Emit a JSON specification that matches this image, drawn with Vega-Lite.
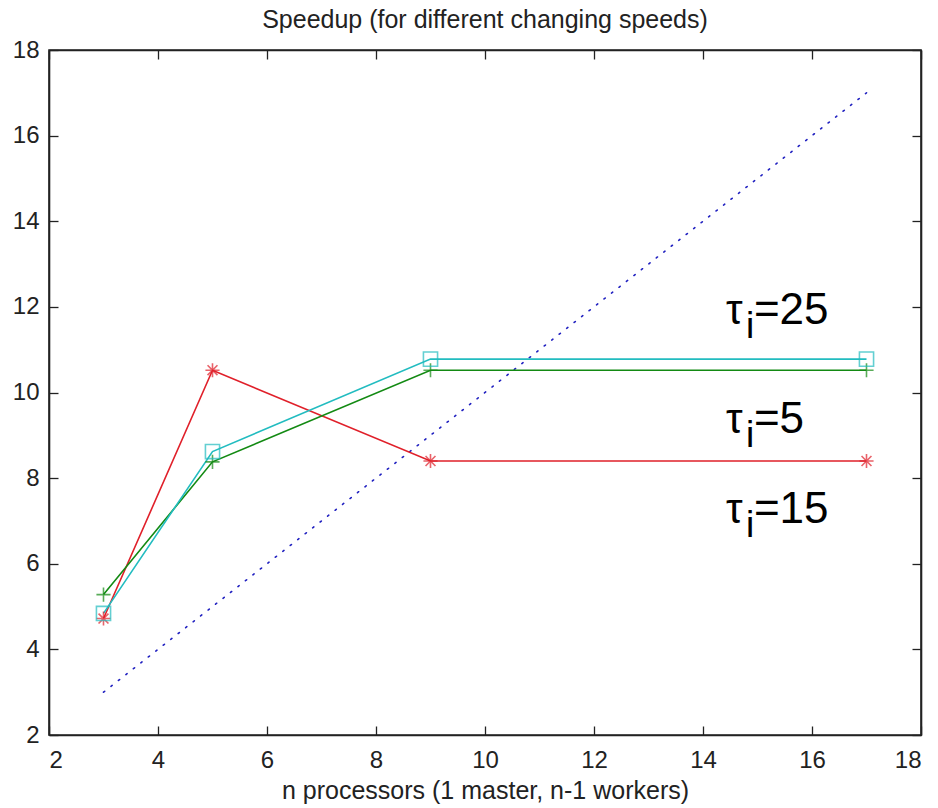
{
  "$schema": "https://vega.github.io/schema/vega-lite/v6.json",
  "autosize": {"type": "none"},
  "width": 872,
  "height": 685,
  "padding": {"left": 49, "top": 50, "right": 17, "bottom": 73},
  "background": "white",
  "title": {"text": "Speedup (for different changing speeds)", "fontSize": 25, "fontWeight": "normal", "font": "Liberation Sans", "color": "#222", "offset": 5},
  "config": {
    "view": {"stroke": "#222", "strokeWidth": 1.6},
    "axis": {"grid": false, "domainColor": "#222", "domainWidth": 1.6, "tickColor": "#222", "tickSize": -9, "tickWidth": 1.3, "labelFontSize": 24, "labelFont": "Liberation Sans", "labelColor": "#222", "titleFont": "Liberation Sans", "titleFontSize": 25, "titleFontWeight": "normal", "titleColor": "#222"}
  },
  "datasets": {
    "series": [
      {"n": 3, "speedup": 4.72, "series": "tau15"},
      {"n": 5, "speedup": 10.52, "series": "tau15"},
      {"n": 9, "speedup": 8.4, "series": "tau15"},
      {"n": 17, "speedup": 8.4, "series": "tau15"},
      {"n": 3, "speedup": 5.28, "series": "tau5"},
      {"n": 5, "speedup": 8.38, "series": "tau5"},
      {"n": 9, "speedup": 10.52, "series": "tau5"},
      {"n": 17, "speedup": 10.52, "series": "tau5"},
      {"n": 3, "speedup": 4.84, "series": "tau25"},
      {"n": 5, "speedup": 8.62, "series": "tau25"},
      {"n": 9, "speedup": 10.78, "series": "tau25"},
      {"n": 17, "speedup": 10.78, "series": "tau25"}
    ],
    "ideal": [
      {"n": 3, "speedup": 3},
      {"n": 17, "speedup": 17}
    ],
    "labels": [
      {"n": 14.42, "speedup": 11.6, "symbol": "τ", "sub": "i", "value": "=25"},
      {"n": 14.42, "speedup": 9.05, "symbol": "τ", "sub": "i", "value": "=5"},
      {"n": 14.42, "speedup": 6.95, "symbol": "τ", "sub": "i", "value": "=15"}
    ]
  },
  "resolve": {"axis": {"x": "independent", "y": "independent"}},
  "layer": [
    {
      "data": {"name": "ideal"},
      "mark": {"type": "line", "color": "#2020c0", "strokeWidth": 1.6, "strokeDash": [1.5, 8], "strokeCap": "round"},
      "encoding": {
        "x": {"field": "n", "type": "quantitative", "scale": {"domain": [2, 18]}, "axis": {"orient": "bottom", "values": [2,4,6,8,10,12,14,16,18], "title": "n processors (1 master, n-1 workers)", "labelPadding": 22, "titlePadding": 6}},
        "y": {"field": "speedup", "type": "quantitative", "scale": {"domain": [2, 18]}, "axis": {"orient": "left", "values": [2,4,6,8,10,12,14,16,18], "title": null, "labelPadding": 19}}
      }
    },
    {
      "data": {"name": "series"},
      "mark": {"type": "line", "strokeWidth": 1.6},
      "encoding": {
        "x": {"field": "n", "type": "quantitative", "scale": {"domain": [2, 18]}, "axis": {"orient": "top", "values": [2,4,6,8,10,12,14,16,18], "labels": false, "title": null}},
        "y": {"field": "speedup", "type": "quantitative", "scale": {"domain": [2, 18]}, "axis": {"orient": "right", "values": [2,4,6,8,10,12,14,16,18], "labels": false, "title": null}},
        "color": {"field": "series", "type": "nominal", "scale": {"domain": ["tau15", "tau5", "tau25"], "range": ["#e0202a", "#138a13", "#22bcc0"]}, "legend": null},
        "order": {"field": "n"},
        "detail": {"field": "series"}
      }
    },
    {
      "data": {"name": "series"},
      "mark": {"type": "point", "filled": false, "strokeWidth": 1.6, "size": 200},
      "encoding": {
        "x": {"field": "n", "type": "quantitative", "axis": null},
        "y": {"field": "speedup", "type": "quantitative", "axis": null},
        "color": {"field": "series", "type": "nominal", "scale": {"domain": ["tau15", "tau5", "tau25"], "range": ["#e0202a", "#138a13", "#22bcc0"]}, "legend": null},
        "shape": {"field": "series", "type": "nominal", "scale": {"domain": ["tau15", "tau5", "tau25"], "range": ["M-1,0L1,0M0,-1L0,1M-0.7,-0.7L0.7,0.7M-0.7,0.7L0.7,-0.7", "M-1,0L1,0M0,-1L0,1", "square"]}, "legend": null}
      }
    },
    {
      "data": {"name": "labels"},
      "mark": {"type": "text", "align": "left", "baseline": "alphabetic", "fontSize": 42, "font": "Liberation Sans, Arial", "color": "black"},
      "encoding": {
        "x": {"field": "n", "type": "quantitative", "axis": null},
        "y": {"field": "speedup", "type": "quantitative", "axis": null},
        "text": {"field": "symbol"}
      }
    },
    {
      "data": {"name": "labels"},
      "mark": {"type": "text", "align": "left", "baseline": "alphabetic", "fontSize": 37, "font": "Liberation Sans, Arial", "color": "black", "dx": 20, "dy": 14},
      "encoding": {
        "x": {"field": "n", "type": "quantitative", "axis": null},
        "y": {"field": "speedup", "type": "quantitative", "axis": null},
        "text": {"field": "sub"}
      }
    },
    {
      "data": {"name": "labels"},
      "mark": {"type": "text", "align": "left", "baseline": "alphabetic", "fontSize": 44, "font": "Liberation Sans, Arial", "color": "black", "dx": 28},
      "encoding": {
        "x": {"field": "n", "type": "quantitative", "axis": null},
        "y": {"field": "speedup", "type": "quantitative", "axis": null},
        "text": {"field": "value"}
      }
    }
  ]
}
